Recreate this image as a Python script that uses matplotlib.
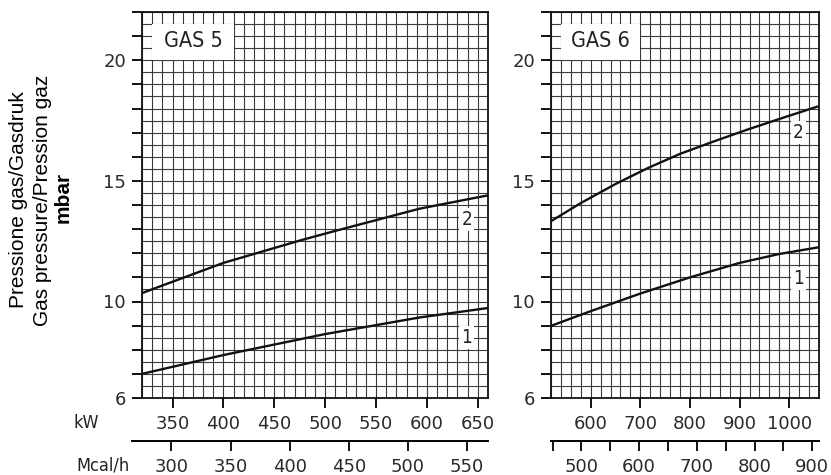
import numpy as np
import matplotlib.pyplot as plt
from matplotlib.patches import Rectangle

gas5_kw_1 = [320, 400, 500, 593, 660]
gas5_mbar_1 = [7.0, 7.78, 8.65, 9.34, 9.73]
gas5_kw_2 = [320, 400, 477, 512, 593, 660]
gas5_mbar_2 = [10.35, 11.6, 12.55, 12.95, 13.85, 14.4]

gas6_kw_1 = [520, 600, 700, 800, 900, 980, 1060]
gas6_mbar_1 = [8.99, 9.6, 10.33, 11.0, 11.6, 11.97, 12.25]
gas6_kw_2 = [520, 580, 650, 715, 780, 850, 915, 985, 1060]
gas6_mbar_2 = [13.33, 14.08, 14.87, 15.53, 16.12, 16.65, 17.12, 17.6, 18.1]

y_ticks = list(range(6, 23))
y_labels = [6, 10, 15, 20]
MCAL_PER_KW = 0.86

W, H = 831, 475
fig = plt.figure(figsize=(W / 100, H / 100), dpi=100)

def px_axes(x0, y0, x1, y1):
    return fig.add_axes([x0 / W, 1 - y1 / H, (x1 - x0) / W, (y1 - y0) / H])

def draw_panel(ax, name, xlim, step, kw_ticks, mcal_major, mcal_minor, box,
               curves, labels, spine_ext):
    ax.set_xlim(*xlim)
    ax.set_ylim(6, 22)
    ax.set_axisbelow(True)

    ax.set_xticks(kw_ticks)
    ax.set_xticks(np.arange(xlim[0], xlim[1] + 1, step), minor=True)
    ax.set_yticks(y_ticks)
    ax.set_yticklabels([str(v) if v in y_labels else '' for v in y_ticks])
    ax.set_yticks(np.arange(6, 22.01, 0.5), minor=True)
    ax.grid(which='both', color='#3a3a3a', lw=0.8)

    ax.tick_params(which='major', length=7.5, width=1.4, labelsize=13,
                   colors='#111111', labelcolor='#2a2a2a')
    ax.tick_params(axis='x', which='major', pad=5)
    ax.tick_params(axis='y', which='major', pad=4)
    ax.tick_params(which='minor', length=0)
    for s in ax.spines.values():
        s.set_linewidth(1.3)
        s.set_color('#111111')

    # Mcal/h scale under the kW scale
    sec = ax.secondary_xaxis(-43 / 386, functions=(lambda k: k * MCAL_PER_KW,
                                                   lambda m: m / MCAL_PER_KW))
    sec.set_xticks(mcal_major)
    sec.set_xticks(mcal_minor, minor=True)
    sec.tick_params(which='both', length=7.5, width=1.4, labelsize=13,
                    pad=5, colors='#111111', labelcolor='#2a2a2a')
    sec.spines['bottom'].set_linewidth(1.4)
    sec.spines['bottom'].set_bounds((xlim[0] - spine_ext) * MCAL_PER_KW,
                                    xlim[1] * MCAL_PER_KW)

    for kw, mbar in curves:
        ax.plot(kw, mbar, color='#111111', lw=1.7, zorder=4,
                solid_capstyle='butt', solid_joinstyle='round')

    for x, y, t in labels:
        ax.text(x, y, t, ha='center', va='center', fontsize=13.5, zorder=5,
                color='#222222', fontstretch='condensed',
                bbox=dict(fc='white', ec='none', pad=1.5))

    ax.add_patch(Rectangle((box[0], 20), box[1] - box[0], 1.5, fc='white',
                           ec='none', zorder=3))
    ax.text((box[0] + box[1]) / 2, 20.78, name, ha='center', va='center',
            fontsize=15.5, color='#222222', zorder=5, fontstretch='condensed')

ax1 = px_axes(142, 12, 488, 398)
ax2 = px_axes(551, 12, 819, 398)

draw_panel(ax1, 'GAS 5', (320, 660), 10, list(range(350, 651, 50)),
           list(range(300, 551, 50)), [], (330, 410),
           [(gas5_kw_1, gas5_mbar_1), (gas5_kw_2, gas5_mbar_2)],
           [(639, 8.5, '1'), (639, 13.4, '2')], 10)
draw_panel(ax2, 'GAS 6', (520, 1060), 20, list(range(600, 1001, 100)),
           list(range(500, 901, 100)), list(range(450, 901, 100)), (540, 700),
           [(gas6_kw_1, gas6_mbar_1), (gas6_kw_2, gas6_mbar_2)],
           [(1018, 10.97, '1'), (1018, 17.0, '2')], 0)

fig.text(86 / W, 1 - 423 / H, 'kW', ha='center', va='center', fontsize=13,
         color='#222222', fontstretch='condensed')
fig.text(103 / W, 1 - 465 / H, 'Mcal/h', ha='center', va='center', fontsize=13,
         color='#222222', fontstretch='condensed')

ylab = dict(rotation=90, ha='center', va='center', fontsize=15,
            family='Liberation Sans', color='black')
fig.text(19 / W, 1 - 200 / H, 'Pressione gas/Gasdruk', **ylab)
fig.text(43 / W, 1 - 200 / H, 'Gas pressure/Pression gaz', **ylab)
fig.text(63 / W, 1 - 197 / H, 'mbar', fontweight='bold', **ylab)

fig.savefig('out.png', dpi=100)
